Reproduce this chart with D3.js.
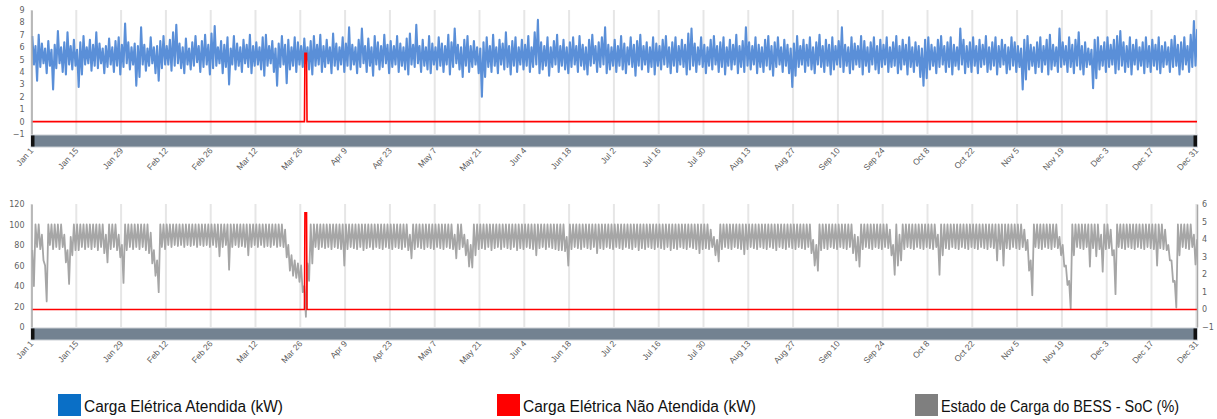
<!DOCTYPE html>
<html><head><meta charset="utf-8">
<script src="https://cdn.jsdelivr.net/npm/d3@7"></script>
<style>body{margin:0;background:#fff}svg{display:block}</style>
</head><body>
<svg id="c" width="1217" height="419"></svg>
<script>
const tickLabels = ["Jan 1","Jan 15","Jan 29","Feb 12","Feb 26","Mar 12","Mar 26","Apr 9","Apr 23","May 7","May 21","Jun 4","Jun 18","Jul 2","Jul 16","Jul 30","Aug 13","Aug 27","Sep 10","Sep 24","Oct 8","Oct 22","Nov 5","Nov 19","Dec 3","Dec 17","Dec 31"];
const topTicks = [-1,0,1,2,3,4,5,6,7,8,9];
const leftTicks = [0,20,40,60,80,100,120];
const rightTicks = [-1,0,1,2,3,4,5,6];

// Carga Elétrica Atendida (kW): daily peak and trough
const loadHigh = [
6.9,6.1,7.0,6.3,5.9,6.5,5.8,6.2,7.3,6.0,6.4,7.2,6.1,6.6,
5.8,6.4,6.9,6.0,6.6,6.2,7.2,6.3,5.9,6.1,6.7,6.0,6.5,6.8,
6.2,7.9,6.4,6.0,6.3,6.1,7.6,6.2,5.9,6.8,6.0,6.1,6.5,6.9,
6.1,6.6,7.2,7.8,6.3,6.0,6.7,5.9,6.4,6.9,6.1,6.5,7.0,6.2,
7.1,7.7,6.0,6.5,6.2,6.8,5.9,6.9,6.3,6.0,6.6,6.2,7.0,6.1,
6.4,6.0,6.8,7.0,6.1,6.5,5.9,6.3,6.9,6.2,6.6,6.0,6.8,6.4,
6.1,6.7,6.0,6.5,6.9,6.2,7.0,6.1,6.6,6.0,7.1,6.3,6.0,6.8,
6.3,7.6,6.2,6.0,6.6,7.5,6.1,6.7,6.0,6.9,6.4,6.1,7.0,6.2,
6.5,6.1,6.9,6.3,6.0,6.7,7.1,6.2,7.8,6.1,6.6,6.0,6.9,6.3,
6.0,6.8,6.3,6.1,7.0,6.4,7.5,6.2,6.0,6.6,6.9,6.1,6.5,6.0,
5.9,6.4,6.8,6.1,7.0,6.0,6.6,6.3,7.2,6.1,6.5,6.8,6.0,6.6,
6.2,6.9,6.0,7.2,8.2,6.4,6.1,6.8,6.0,6.5,7.0,6.1,6.6,6.0,
6.4,6.8,6.1,6.9,6.2,6.0,6.6,7.0,6.1,6.4,6.8,7.6,6.2,6.0,
6.6,6.1,6.9,6.3,6.0,6.8,6.2,6.5,7.0,6.1,6.4,6.0,6.8,6.3,
6.1,6.6,6.9,6.0,6.4,6.8,6.1,6.6,6.2,7.1,7.5,6.3,6.0,6.8,
6.2,6.0,6.6,6.9,6.1,6.4,6.8,6.0,6.6,6.2,7.0,6.1,6.5,7.6,
6.4,6.1,6.8,6.2,6.0,6.6,6.9,6.1,6.4,6.8,6.0,6.6,6.2,5.9,
6.3,6.9,6.1,6.6,6.2,6.8,6.0,6.4,7.0,6.1,6.6,6.2,6.8,6.1,
6.5,7.6,6.2,6.0,6.8,6.3,6.1,6.9,6.5,6.0,6.4,6.8,6.1,6.6,
6.2,6.8,6.0,6.4,6.9,6.1,6.6,6.2,6.8,6.0,6.4,6.1,5.9,6.6,
6.8,6.2,6.0,6.6,6.9,6.1,6.4,6.8,6.2,6.0,7.5,6.6,6.1,6.4,
6.8,6.1,6.6,6.2,6.9,6.0,6.4,6.8,6.1,6.6,6.2,6.0,6.8,6.4,
6.1,5.9,6.6,6.9,6.2,6.0,6.4,6.8,6.1,6.6,7.0,6.2,6.0,7.5,
6.4,6.1,6.8,6.2,6.6,7.2,6.1,6.4,5.9,5.8,6.6,6.8,6.1,6.4,
6.8,6.2,6.6,6.9,7.3,6.4,6.1,6.8,6.2,6.6,6.0,6.4,6.8,6.1,
6.6,6.2,6.8,6.1,6.4,6.0,6.6,6.9,6.2,6.4,6.8,6.1,7.0,8.1,
7.4];
const loadLow = [
4.6,3.3,4.4,4.7,3.9,4.5,2.6,4.3,4.7,4.0,3.8,4.6,4.2,4.5,
2.8,3.8,4.6,4.7,4.1,4.5,4.3,4.7,3.9,4.4,4.6,4.0,4.5,3.8,
4.4,4.7,4.2,4.6,2.9,3.6,4.6,4.1,4.5,4.7,3.9,3.3,4.3,4.6,
4.6,4.1,4.5,4.7,4.3,3.9,4.6,4.2,4.5,4.8,4.0,4.4,4.6,3.8,
4.3,4.5,4.7,3.9,4.4,3.0,4.6,4.2,4.5,4.0,4.7,4.4,3.9,4.5,
4.6,4.2,3.7,4.5,4.7,4.0,2.9,4.4,4.6,3.1,4.2,4.5,4.0,4.6,
4.4,4.7,4.2,3.8,4.5,4.6,4.0,4.4,4.7,3.9,4.5,4.2,4.6,4.0,
4.5,4.2,4.6,3.9,4.4,4.7,4.0,4.5,3.7,4.6,4.2,4.4,4.7,3.9,
4.4,4.6,4.0,4.5,4.2,3.8,4.6,4.4,4.7,4.0,4.5,4.2,3.9,4.6,
4.2,4.5,4.0,4.6,3.8,4.4,4.7,4.2,3.6,4.5,4.0,4.4,4.6,3.9,
2.0,3.6,4.4,4.0,4.5,3.9,4.6,4.2,4.4,3.8,4.5,4.0,4.6,4.2,
4.5,4.0,4.4,4.6,3.9,4.2,4.5,3.7,4.4,4.6,4.0,4.5,4.2,3.9,
4.4,4.6,4.0,4.5,4.2,3.8,4.5,4.7,4.0,4.4,4.6,3.9,4.2,4.5,
4.0,4.5,4.2,3.9,4.6,4.4,3.7,4.5,4.2,4.6,4.0,4.4,3.8,4.5,
4.2,4.6,4.4,3.9,4.5,4.0,4.6,4.4,3.8,4.2,4.5,4.0,4.6,4.4,
3.9,4.5,4.2,4.6,4.0,4.4,3.8,4.5,4.2,4.6,3.9,4.4,4.0,4.5,
4.2,4.6,3.9,4.4,4.0,4.5,4.2,3.7,4.4,4.6,4.0,4.5,3.9,2.8,
3.7,4.4,4.6,4.0,4.5,4.2,3.9,4.6,4.4,4.0,4.5,3.8,4.2,4.6,
4.4,4.0,4.5,3.9,4.2,4.6,4.4,3.8,4.5,4.0,4.6,4.2,3.9,4.4,
4.6,4.0,4.4,4.5,3.9,4.2,4.6,3.8,4.4,4.0,4.5,3.6,2.9,3.5,
4.2,4.5,3.9,4.4,4.6,4.0,4.4,3.8,4.5,4.2,4.6,3.9,4.4,4.0,
4.5,3.9,4.4,4.6,4.0,4.2,4.5,3.8,4.4,4.6,3.9,4.2,4.5,4.0,
4.4,2.6,3.4,4.2,4.5,3.9,4.4,4.0,4.6,3.8,4.2,4.5,4.0,4.4,
4.6,4.0,4.4,3.9,4.5,4.2,3.8,4.4,4.6,2.7,3.5,4.2,4.5,4.0,
4.4,4.6,3.9,4.2,4.5,4.0,4.4,3.8,4.6,4.2,4.5,3.9,4.4,4.0,
4.5,4.2,3.9,4.4,4.6,4.0,4.4,4.5,3.8,4.2,4.6,4.0,4.4,4.5,
3.9];

// Estado de Carga do BESS - SoC (%): daily peak and trough
const socHigh = [
75,100,100,90,60,100,100,100,100,100,90,75,88,100,
100,100,100,100,100,100,100,100,100,90,100,100,100,90,
80,100,100,100,100,100,100,100,100,92,75,65,100,100,
100,100,100,100,100,100,100,100,100,100,100,100,100,100,
100,100,100,100,100,100,100,100,100,100,100,100,100,100,
100,100,100,100,100,100,100,100,100,95,80,70,65,62,
60,40,62,100,100,100,100,100,100,100,100,100,100,100,
100,100,100,100,100,100,100,100,100,100,100,100,100,100,
100,100,100,100,100,100,90,100,100,100,100,100,100,100,
100,100,100,100,100,100,90,100,100,90,85,80,100,100,
100,100,100,100,100,100,100,100,100,100,100,100,100,100,
100,100,100,100,100,100,100,100,100,100,100,100,100,88,
100,100,100,100,100,100,100,100,100,100,100,100,100,100,
100,100,100,100,100,100,100,100,100,100,100,100,100,100,
100,100,100,100,100,100,100,100,100,100,100,100,100,100,
100,100,95,88,85,100,100,100,100,100,100,100,100,100,
100,100,100,100,100,100,100,100,100,100,100,100,100,100,
100,100,100,100,100,100,85,80,100,100,100,100,100,100,
100,100,100,100,100,90,88,100,100,100,100,100,100,100,
100,100,95,80,100,90,100,100,100,100,100,100,100,100,
100,100,100,90,100,100,100,100,100,100,100,100,100,100,
100,100,100,100,100,100,100,100,100,100,100,100,100,100,
100,100,95,85,65,100,100,100,100,100,100,100,100,88,
80,60,45,100,100,100,100,100,100,100,100,100,90,100,
100,95,75,100,100,100,100,100,100,100,100,100,100,100,
100,100,100,100,95,80,65,45,100,100,100,100,100,90,
85];
const socLow = [
40,78,76,65,25,80,76,78,76,78,63,42,70,75,
75,78,76,78,76,78,75,78,72,63,76,78,75,68,
43,75,78,76,78,76,78,75,72,62,50,34,78,76,
80,78,80,79,80,78,80,79,80,78,80,79,80,78,
80,78,69,78,80,56,78,80,78,79,78,70,78,80,
78,80,78,79,78,80,78,79,78,68,55,50,48,44,
34,10,45,62,78,76,78,77,78,76,78,77,76,60,
76,78,77,76,78,75,77,78,76,78,77,76,78,77,
76,78,77,76,78,75,67,76,78,77,76,78,77,76,
78,77,76,78,77,76,67,76,78,70,59,58,70,76,
77,76,78,75,77,78,76,78,77,76,78,75,77,76,
78,77,76,70,77,78,76,78,77,76,75,75,74,60,
76,78,77,76,78,77,76,78,72,77,76,78,77,76,
78,77,76,78,77,76,78,75,77,76,78,77,76,78,
77,76,78,75,77,76,78,77,76,78,77,76,72,76,
77,76,78,70,64,76,78,77,76,78,77,76,71,76,
78,77,76,78,77,76,78,77,75,78,77,76,78,77,
76,78,77,76,78,72,60,55,75,77,76,78,77,76,
78,77,76,78,72,65,59,76,78,77,76,78,77,76,
78,77,70,51,60,65,76,78,77,76,78,77,76,78,
77,76,78,51,70,77,76,78,77,76,78,77,76,78,
77,76,78,77,76,78,77,65,76,60,77,76,78,77,
76,78,75,55,31,78,77,76,78,77,76,78,77,70,
59,41,18,70,78,77,76,78,59,77,69,76,54,76,
77,70,32,78,77,76,78,77,76,78,77,76,78,77,
76,60,77,76,75,65,44,19,70,78,77,76,78,61,
61];

// Carga Elétrica Não Atendida (kW)
const unservedDay = [0, 85.3, 85.45, 85.95, 86.1, 365];
const unservedVal = [0, 0, 5.5, 5.5, 0, 0];

const legendLabels = ["Carga Elétrica Atendida (kW)", "Carga Elétrica Não Atendida (kW)", "Estado de Carga do BESS - SoC (%)"];
const legendColors = ["#0a6fc6", "#ff0000", "#7f7f7f"];

const svg = d3.select('#c');
const X0 = 31.5, X1 = 1196.3, XR = 1197;
const x = d3.scaleLinear().domain([0, 364]).range([X0, X1]);
const tickDays = tickLabels.map((d, i) => i * 14);

const daily = (hi, lo) => {
  const pts = [];
  hi.forEach((h, i) => { pts.push({t: i + 0.25, v: h}); pts.push({t: i + 0.75, v: lo[i]}); });
  return pts;
};
const loadPts = daily(loadHigh, loadLow);
const socPts = daily(socHigh, socLow);
const unsPts = unservedDay.map((t, i) => ({t, v: unservedVal[i]}));

const defs = svg.append('defs');
function clip(id, y0, y1) {
  defs.append('clipPath').attr('id', id).append('rect')
    .attr('x', X0).attr('y', y0).attr('width', XR - X0).attr('height', y1 - y0);
}

function panel(cfg) {
  const g = svg.append('g');
  const {top, bottom} = cfg;
  g.selectAll('line.grid').data(tickDays).join('line')
    .attr('x1', d => x(d)).attr('x2', d => x(d))
    .attr('y1', top).attr('y2', bottom)
    .attr('stroke', '#e6e6e6').attr('stroke-width', 2);
  g.append('rect').attr('x', X0 - 0.5).attr('y', bottom + 1).attr('width', XR - X0 + 1).attr('height', 12)
    .attr('fill', '#738291').attr('stroke', '#c9ced3').attr('stroke-width', 1);
  g.append('rect').attr('x', X0 - 0.5).attr('y', bottom + 1.5).attr('width', 3.5).attr('height', 11).attr('fill', '#111');
  g.append('rect').attr('x', XR - 3.5).attr('y', bottom + 1.5).attr('width', 3.5).attr('height', 11).attr('fill', '#111');
  const ax = g.append('g').attr('transform', `translate(0,${bottom + 17})`)
    .call(d3.axisBottom(x).tickValues(tickDays).tickFormat((d, i) => tickLabels[i]).tickSize(0));
  ax.select('.domain').remove();
  ax.selectAll('text').attr('x', 0).attr('y', 0).attr('dy', 0)
    .attr('transform', 'translate(2,0) rotate(-48)')
    .attr('text-anchor', 'end')
    .attr('fill', '#5a5a5a').style('font-family', 'Liberation Sans, Arial, sans-serif').style('font-size', '8.5px');
  return g;
}

function yAxis(g, scale, ticks, side, xpos) {
  const a = side === 'left' ? d3.axisLeft(scale) : d3.axisRight(scale);
  const ga = g.append('g').attr('transform', `translate(${xpos},0)`)
    .call(a.tickValues(ticks).tickFormat(d3.format('d')).tickSize(0).tickPadding(side === 'left' ? 7 : 5).tickSizeOuter(0));
  ga.select('.domain').attr('stroke', '#a8a8a8').attr('stroke-width', 1.5);
  ga.selectAll('text').attr('fill', '#5f5f5f')
    .style('font-family', 'DejaVu Sans, Verdana, sans-serif').style('font-size', '8px');
}

// ---------- top chart ----------
const yTop = d3.scaleLinear().domain([-1, 9]).range([134, 10]);
clip('clipTop', 9, 135);
const gTop = panel({top: 10, bottom: 134});
const lineTop = d3.line().x(d => x(d.t)).y(d => yTop(d.v));
gTop.append('path').datum(loadPts).attr('d', lineTop).attr('clip-path', 'url(#clipTop)')
  .attr('fill', 'none').attr('stroke', '#5a8fd8').attr('stroke-width', 2.1).attr('stroke-linejoin', 'round');
gTop.append('path').datum(unsPts).attr('d', lineTop).attr('clip-path', 'url(#clipTop)')
  .attr('fill', 'none').attr('stroke', '#ff0000').attr('stroke-width', 1.6);
yAxis(gTop, yTop, topTicks, 'left', X0);

// ---------- bottom chart ----------
const yL = d3.scaleLinear().domain([0, 120]).range([327, 204]);
const yR = d3.scaleLinear().domain([-1, 6]).range([327, 204]);
clip('clipBot', 203, 328);
const gBot = panel({top: 204, bottom: 327});
const lineSoc = d3.line().x(d => x(d.t)).y(d => yL(d.v));
const lineUns = d3.line().x(d => x(d.t)).y(d => yR(d.v));
gBot.append('path').datum(socPts).attr('d', lineSoc).attr('clip-path', 'url(#clipBot)')
  .attr('fill', 'none').attr('stroke', '#a6a6a6').attr('stroke-width', 1.8).attr('stroke-linejoin', 'round');
gBot.append('path').datum(unsPts).attr('d', lineUns).attr('clip-path', 'url(#clipBot)')
  .attr('fill', 'none').attr('stroke', '#ff0000').attr('stroke-width', 1.6);
yAxis(gBot, yL, leftTicks, 'left', X0);
yAxis(gBot, yR, rightTicks, 'right', XR);

// ---------- legend ----------
const legX = [58, 497, 915];
const legLen = [199, 233, 238];
const lg = svg.append('g');
legendLabels.forEach((lab, i) => {
  lg.append('rect').attr('x', legX[i]).attr('y', 394).attr('width', 23).attr('height', 22).attr('fill', legendColors[i]);
  lg.append('text').attr('x', legX[i] + 26).attr('y', 412).text(lab)
    .attr('textLength', legLen[i]).attr('lengthAdjust', 'spacingAndGlyphs')
    .attr('fill', '#111').style('font-family', 'Liberation Sans, Arial, sans-serif').style('font-size', '16px');
});
</script>
</body></html>
